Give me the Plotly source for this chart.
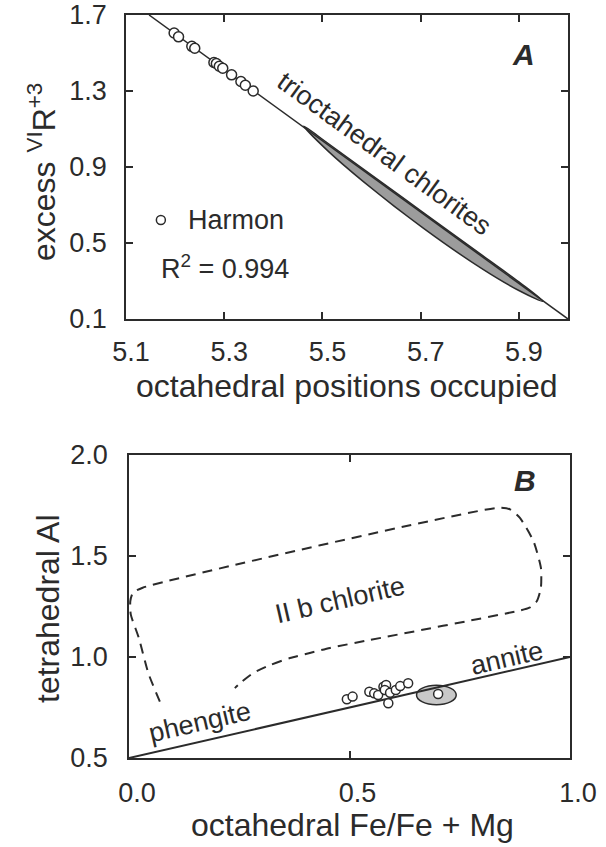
import plotly.graph_objects as go

W, H = 606, 847
FONT = "Liberation Sans, Arial, Helvetica, sans-serif"
INK = "#2b2b2b"

# ---------------- Panel A data ----------------
harmon_x = [5.198, 5.207, 5.234, 5.240, 5.279, 5.284, 5.290, 5.297, 5.315, 5.334, 5.343, 5.359]
harmon_y = [1.605, 1.585, 1.535, 1.525, 1.450, 1.445, 1.430, 1.420, 1.385, 1.350, 1.330, 1.300]
fit_x = [5.147, 6.0]
fit_y = [1.7, 0.1]
# trioctahedral chlorite field (lens outline)
lens_x = [5.462, 5.511, 5.584, 5.706, 5.827, 5.900, 5.949, 5.900, 5.827, 5.706, 5.584, 5.511, 5.462]
lens_y = [1.115, 0.985, 0.822, 0.577, 0.361, 0.250, 0.193, 0.295, 0.432, 0.659, 0.888, 1.025, 1.115]
a_xticks = [5.1, 5.3, 5.5, 5.7, 5.9]
a_yticks = [0.1, 0.5, 0.9, 1.3, 1.7]

# ---------------- Panel B data ----------------
line_b_x = [0.0, 1.0]
line_b_y = [0.5, 1.0]
chl_x = [0.070, 0.044, 0.022, 0.004, 0.003, 0.009, 0.031, 0.838, 0.864, 0.886, 0.917, 0.934,
         0.934, 0.925, 0.908, 0.882, 0.546, 0.456, 0.410, 0.365, 0.320, 0.282, 0.255, 0.240]
chl_y = [0.779, 0.919, 1.096, 1.211, 1.277, 1.318, 1.343, 1.739, 1.731, 1.690, 1.574, 1.442,
         1.343, 1.277, 1.244, 1.228, 1.084, 1.045, 1.020, 0.995, 0.960, 0.921, 0.876, 0.846]
pts_b_x = [0.494, 0.507, 0.545, 0.556, 0.565, 0.577, 0.583, 0.580, 0.592, 0.588, 0.605, 0.615, 0.633, 0.701]
pts_b_y = [0.791, 0.804, 0.828, 0.820, 0.812, 0.853, 0.861, 0.837, 0.823, 0.771, 0.837, 0.856, 0.870, 0.817]
ell_cx, ell_cy, ell_rx, ell_ry = 0.697, 0.812, 0.045, 0.048
b_xticks = [0.0, 0.5, 1.0]
b_yticks = [0.5, 1.0, 1.5, 2.0]


def px(v):
    return v / W


def py(v):
    return 1 - v / H


fig = go.Figure()

# Panel A
fig.add_trace(go.Scatter(x=lens_x, y=lens_y, mode="lines", fill="toself",
                         fillcolor="#9c9c9c", line=dict(color=INK, width=1.5, shape="spline"),
                         xaxis="x", yaxis="y", hoverinfo="skip"))
fig.add_trace(go.Scatter(x=fit_x, y=fit_y, mode="lines", line=dict(color=INK, width=1.5),
                         xaxis="x", yaxis="y"))
fig.add_trace(go.Scatter(x=harmon_x, y=harmon_y, mode="markers",
                         marker=dict(symbol="circle", size=10, color="white",
                                     line=dict(color=INK, width=1.5)),
                         xaxis="x", yaxis="y"))
# legend marker
fig.add_trace(go.Scatter(x=[5.171], y=[0.621], mode="markers",
                         marker=dict(symbol="circle", size=9, color="white",
                                     line=dict(color=INK, width=1.5)),
                         xaxis="x", yaxis="y"))

# Panel B
fig.add_shape(type="circle", xref="x2", yref="y2",
              x0=ell_cx - ell_rx, x1=ell_cx + ell_rx, y0=ell_cy - ell_ry, y1=ell_cy + ell_ry,
              fillcolor="#c8c8c8", line=dict(color=INK, width=1.5), layer="below")
fig.add_trace(go.Scatter(x=line_b_x, y=line_b_y, mode="lines", line=dict(color=INK, width=2),
                         xaxis="x2", yaxis="y2"))
fig.add_trace(go.Scatter(x=chl_x, y=chl_y, mode="lines",
                         line=dict(color=INK, width=2, dash="10px,7px", shape="spline", smoothing=0.6),
                         xaxis="x2", yaxis="y2"))
fig.add_trace(go.Scatter(x=pts_b_x, y=pts_b_y, mode="markers",
                         marker=dict(symbol="circle", size=9, color="white",
                                     line=dict(color=INK, width=1.5)),
                         xaxis="x2", yaxis="y2"))

axis_common = dict(showline=True, linecolor=INK, linewidth=1.8, mirror="ticks",
                   ticks="inside", ticklen=7, tickwidth=1.5, tickcolor=INK,
                   showgrid=False, zeroline=False, automargin=False,
                   tickfont=dict(family=FONT, size=27, color=INK))

fig.update_layout(
    width=W, height=H, margin=dict(l=0, r=0, t=0, b=0, autoexpand=False),
    paper_bgcolor="white", plot_bgcolor="white", showlegend=False,
    font=dict(family=FONT, color=INK),
    xaxis=dict(domain=[px(126), px(568)], range=[5.1, 6.0], tickvals=a_xticks,
               tickformat=".1f", anchor="y", ticklabelstandoff=8, ticklabelshift=5, **axis_common),
    yaxis=dict(domain=[py(319), py(15)], range=[0.1, 1.7], tickvals=a_yticks,
               tickformat=".1f", anchor="x", ticklabelstandoff=12, **axis_common),
    xaxis2=dict(domain=[px(129), px(570)], range=[0, 1.0], tickvals=b_xticks,
                tickformat=".1f", anchor="y2", ticklabelstandoff=10, ticklabelshift=8, **axis_common),
    yaxis2=dict(domain=[py(758), py(455)], range=[0.5, 2.0], tickvals=b_yticks,
                tickformat=".1f", anchor="x2", ticklabelstandoff=14, **axis_common),
)

ann = []
TS = 27
C = dict(xanchor="center", yanchor="middle", showarrow=False)
# Panel A annotations
ann.append(dict(x=5.627, y=0.968, xref="x", yref="y", text="trioctahedral chlorites",
                textangle=36, font=dict(family=FONT, size=TS, color=INK), **C))
ann.append(dict(x=5.91, y=1.49, xref="x", yref="y", text="<b><i>A</i></b>",
                font=dict(family=FONT, size=30, color=INK), **C))
ann.append(dict(x=5.222, y=0.621, xref="x", yref="y", text="Harmon", xanchor="left",
                yanchor="middle", showarrow=False, font=dict(family=FONT, size=TS, color=INK)))
ann.append(dict(x=5.167, y=0.374, xref="x", yref="y", text="R<sup>2</sup> = 0.994", xanchor="left",
                yanchor="middle", showarrow=False, font=dict(family=FONT, size=TS, color=INK)))
ann.append(dict(x=px(347), y=py(386), xref="paper", yref="paper",
                text="octahedral positions occupied",
                font=dict(family=FONT, size=32, color=INK), **C))
ann.append(dict(x=px(42), y=py(172), xref="paper", yref="paper", textangle=-90,
                text="excess <sup>VI</sup>R<sup>+3</sup>",
                font=dict(family=FONT, size=32, color=INK), **C))
# Panel B annotations
ann.append(dict(x=0.478, y=1.282, xref="x2", yref="y2", text="II b chlorite", textangle=-13,
                font=dict(family=FONT, size=TS, color=INK), **C))
ann.append(dict(x=0.857, y=0.995, xref="x2", yref="y2", text="annite", textangle=-13,
                font=dict(family=FONT, size=TS, color=INK), **C))
ann.append(dict(x=0.161, y=0.678, xref="x2", yref="y2", text="phengite", textangle=-13,
                font=dict(family=FONT, size=TS, color=INK), **C))
ann.append(dict(x=0.899, y=1.876, xref="x2", yref="y2", text="<b><i>B</i></b>",
                font=dict(family=FONT, size=30, color=INK), **C))
ann.append(dict(x=px(352), y=py(825), xref="paper", yref="paper",
                text="octahedral Fe/Fe + Mg",
                font=dict(family=FONT, size=32, color=INK), **C))
ann.append(dict(x=px(48), y=py(609), xref="paper", yref="paper", textangle=-90,
                text="tetrahedral Al",
                font=dict(family=FONT, size=32, color=INK), **C))
fig.update_layout(annotations=ann)

fig.write_html("out.html")
